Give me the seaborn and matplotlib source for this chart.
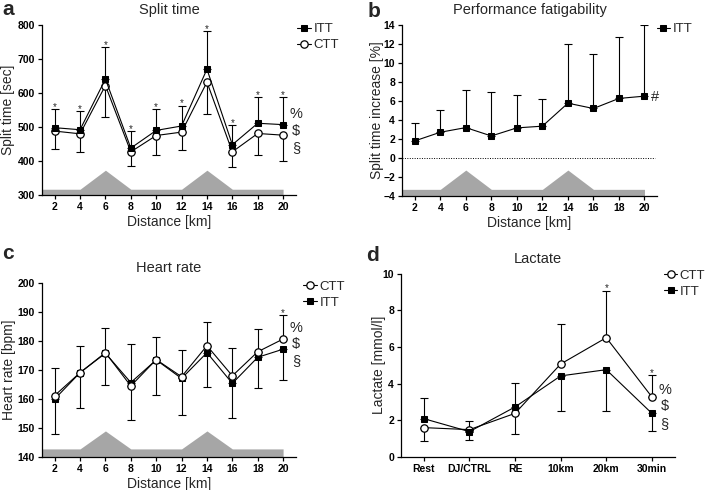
import numpy as np
import pandas as pd
import matplotlib
matplotlib.use("Agg")
import matplotlib.pyplot as plt
import seaborn as sns

# Data
km = [2, 4, 6, 8, 10, 12, 14, 16, 18, 20]

# a - split time [sec]
itt_split = [498, 492, 641, 438, 490, 503, 670, 448, 511, 507]
ctt_split = [488, 480, 622, 427, 475, 485, 632, 427, 481, 476]
itt_split_sd = [55, 56, 94, 51, 63, 60, 113, 57, 78, 82]
ctt_split_sd = [52, 54, 92, 42, 57, 54, 95, 46, 63, 76]

# b - performance fatigability [%]
itt_fatig = [1.8, 2.71, 3.2, 2.32, 3.17, 3.35, 5.77, 5.21, 6.27, 6.51]
itt_fatig_sd = [1.86, 2.35, 4.0, 4.65, 3.45, 2.81, 6.23, 5.78, 6.5, 7.49]

# c - heart rate [bpm]
ctt_hr = [161.2, 169.1, 176.0, 164.5, 173.6, 167.7, 178.4, 168.0, 176.3, 180.7]
itt_hr = [160.0, 169.1, 175.8, 165.7, 173.5, 167.1, 176.0, 165.4, 174.4, 177.2]
ctt_hr_sd = [9.4, 9.1, 8.4, 14.5, 7.7, 9.3, 8.1, 9.7, 8.0, 8.4]
itt_hr_sd = [12.1, 12.1, 11.0, 13.0, 12.2, 12.6, 11.8, 11.9, 10.7, 10.8]

# d - lactate [mmol/l]
lac_labels = ["Rest", "DJ/CTRL", "RE", "10km", "20km", "30min"]
ctt_lac = [1.59, 1.48, 2.37, 5.07, 6.51, 3.27]
itt_lac = [2.08, 1.37, 2.72, 4.42, 4.76, 2.37]
ctt_lac_up = [0, 0.49, 0, 2.17, 2.58, 1.2]
ctt_lac_down = [0.75, 0, 1.11, 0, 0, 0]
itt_lac_up = [1.15, 0, 1.31, 0, 0, 0]
itt_lac_down = [0, 0.48, 0, 1.92, 2.28, 0.95]

# course profile (0 = flat, 1 = hill top)
terrain_km = [1, 4, 6, 8, 12, 14, 16, 20]
terrain_level = [0, 0, 1, 0, 0, 1, 0, 0]

sns.set_style("ticks")
plt.rcParams['font.family'] = ['Liberation Sans', 'DejaVu Sans']

fig = plt.figure(figsize=(7.09, 4.90), dpi=100)
ax_a = fig.add_axes([0.0592, 0.602, 0.358, 0.347])
ax_b = fig.add_axes([0.567, 0.600, 0.360, 0.349])
ax_c = fig.add_axes([0.0592, 0.0673, 0.358, 0.355])
ax_d = fig.add_axes([0.5656, 0.068, 0.386, 0.373])


def style_axes(ax):
    sns.despine(ax=ax)
    for s in ["left", "bottom"]:
        ax.spines[s].set_linewidth(0.9)
        ax.spines[s].set_color("black")
    ax.tick_params(length=3, width=0.9, pad=2, labelsize=7.5, colors="black")
    for lab in ax.get_xticklabels() + ax.get_yticklabels():
        lab.set_fontweight("bold")


def err(ax, x, y, up=None, down=None):
    x = np.asarray(x, float)
    y = np.asarray(y, float)
    up = np.zeros(len(x)) if up is None else np.asarray(up, float)
    down = np.zeros(len(x)) if down is None else np.asarray(down, float)
    m = (up > 0) | (down > 0)
    ax.errorbar(x[m], y[m], yerr=[down[m], up[m]], fmt="none", ecolor="black",
                elinewidth=0.8, capsize=3, capthick=0.8, zorder=2)


def terrain(ax, flat, peak):
    lo = ax.get_ylim()[0]
    prof = [flat + (peak - flat) * t for t in terrain_level]
    ax.fill_between(terrain_km, lo, prof, color="#a6a6a6", lw=0, zorder=0.5)


def stars(ax, xs, tops):
    for x, t in zip(xs, tops):
        ax.annotate("*", (x, t), xytext=(0, -0.7), textcoords="offset points",
                    ha="center", va="baseline", fontsize=7)


def marks(ax, x, ypos):
    for s, yf in zip(["%", "$", "§"], ypos):
        ax.text(x, yf, s, transform=ax.get_xaxis_transform(), ha="center",
                va="center", fontsize=10.5)


def legend(ax, order, anchor):
    h, l = ax.get_legend_handles_labels()
    d = dict(zip(l, h))
    ax.legend([d[k] for k in order], order, loc="upper left", bbox_to_anchor=anchor,
              bbox_transform=fig.transFigure, frameon=False, fontsize=9.5,
              handlelength=1.0, handletextpad=0.2, borderpad=0, borderaxespad=0,
              labelspacing=0.28)


itt_kw = dict(color="black", marker="s", markersize=5, markeredgecolor="black",
              lw=0.8, zorder=4)
ctt_kw = dict(color="black", marker="o", markersize=5.3, markerfacecolor="white",
              markeredgecolor="black", markeredgewidth=0.9, lw=0.8, zorder=4)

# ---- a: split time
ax = ax_a
ax.set_xlim(1, 21)
ax.set_ylim(300, 800)
terrain(ax, 317, 373)
err(ax, km, itt_split, up=itt_split_sd)
err(ax, km, ctt_split, down=ctt_split_sd)
sns.lineplot(x=km, y=ctt_split, ax=ax, label="CTT", **ctt_kw)
sns.lineplot(x=km, y=itt_split, ax=ax, label="ITT", **itt_kw)
stars(ax, km, np.add(itt_split, itt_split_sd))
marks(ax, 21.0, [0.476, 0.376, 0.276])
ax.set_xticks(km)
ax.set_yticks(range(300, 801, 100))
ax.set_title("Split time", fontsize=10.5, pad=8)
ax.set_xlabel("Distance [km]", fontsize=10, labelpad=2)
ax.set_ylabel("Split time [sec]", fontsize=10)
ax.yaxis.set_label_coords(-0.106, 0.5)
legend(ax, ["ITT", "CTT"], (0.4196, 0.953))
style_axes(ax)

# ---- b: performance fatigability
ax = ax_b
ax.set_xlim(1, 21)
ax.set_ylim(-4, 14)
terrain(ax, -3.3, -1.27)
ax.axhline(0, xmax=0.99, color="black", lw=0.7, ls=(0, (1, 1.5)), zorder=1)
err(ax, km, itt_fatig, up=itt_fatig_sd)
sns.lineplot(x=km, y=itt_fatig, ax=ax, label="ITT", **itt_kw)
ax.text(20.8, itt_fatig[-1] - 0.1, "#", ha="center", va="center", fontsize=10.5)
ax.set_xticks(km)
ax.set_yticks(range(-4, 15, 2))
ax.set_title("Performance fatigability", fontsize=10.5, pad=8)
ax.set_xlabel("Distance [km]", fontsize=10, labelpad=2)
ax.set_ylabel("Split time increase [%]", fontsize=10)
ax.yaxis.set_label_coords(-0.072, 0.5)
legend(ax, ["ITT"], (0.926, 0.953))
style_axes(ax)

# ---- c: heart rate
ax = ax_c
ax.set_xlim(1, 21)
ax.set_ylim(140, 200)
terrain(ax, 142.8, 149)
err(ax, km, ctt_hr, up=ctt_hr_sd)
err(ax, km, itt_hr, down=itt_hr_sd)
sns.lineplot(x=km, y=itt_hr, ax=ax, label="ITT", **itt_kw)
sns.lineplot(x=km, y=ctt_hr, ax=ax, label="CTT", **ctt_kw)
stars(ax, km[-1:], [ctt_hr[-1] + ctt_hr_sd[-1]])
marks(ax, 21.03, [0.742, 0.648, 0.553])
ax.set_xticks(km)
ax.set_yticks(range(140, 201, 10))
ax.set_title("Heart rate", fontsize=10.5, pad=8)
ax.set_xlabel("Distance [km]", fontsize=10, labelpad=2)
ax.set_ylabel("Heart rate [bpm]", fontsize=10)
ax.yaxis.set_label_coords(-0.101, 0.5)
legend(ax, ["CTT", "ITT"], (0.428, 0.427))
style_axes(ax)

# ---- d: lactate
ax = ax_d
pos = np.arange(len(lac_labels))
ax.set_xlim(-0.5, 5.5)
ax.set_ylim(0, 10)
err(ax, pos, ctt_lac, up=ctt_lac_up, down=ctt_lac_down)
err(ax, pos, itt_lac, up=itt_lac_up, down=itt_lac_down)
sns.lineplot(x=pos, y=ctt_lac, ax=ax, label="CTT", **ctt_kw)
sns.lineplot(x=pos, y=itt_lac, ax=ax, label="ITT", **itt_kw)
stars(ax, pos[4:], np.add(ctt_lac, ctt_lac_up)[4:])
marks(ax, 5.28, [0.363, 0.277, 0.179])
ax.set_xticks(pos)
ax.set_xticklabels(lac_labels)
ax.set_yticks(range(0, 11, 2))
ax.set_title("Lactate", fontsize=10.5, pad=8)
ax.set_ylabel("Lactate [mmol/l]", fontsize=10)
ax.yaxis.set_label_coords(-0.055, 0.5)
legend(ax, ["CTT", "ITT"], (0.9365, 0.4494))
style_axes(ax)

# panel letters
for letter, (x, y) in zip("abcd", [(2, 15), (368, 17), (2, 259), (366, 261)]):
    fig.text(x / 709, 1 - y / 490, letter, fontsize=15, fontweight="bold",
             ha="left", va="baseline")

fig.savefig("out.png", dpi=100)
